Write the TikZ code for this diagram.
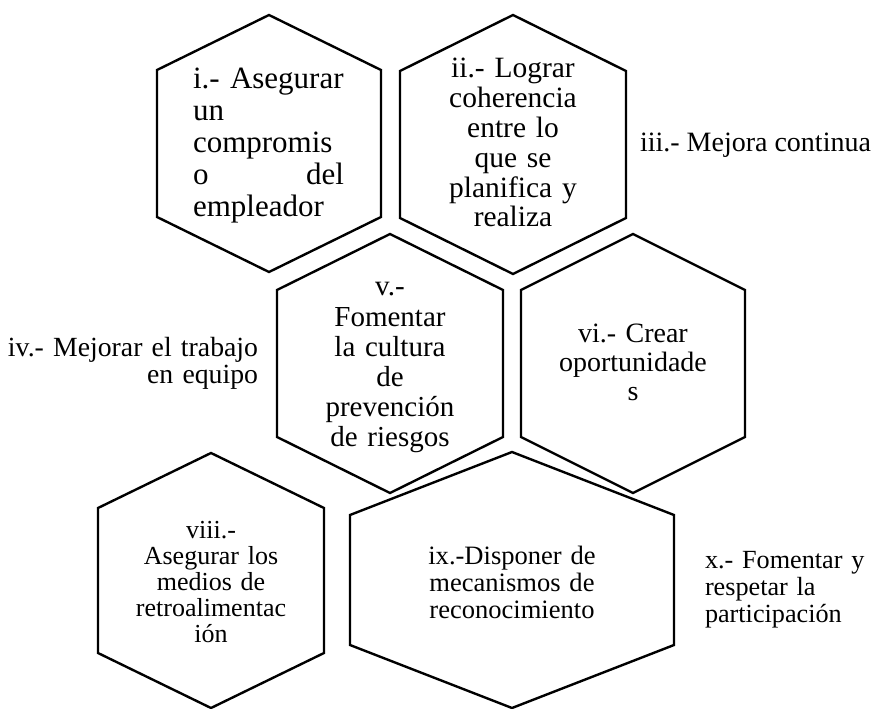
\documentclass[tikz,border=0pt]{standalone}
\usepackage{fontspec}
\setmainfont{Liberation Serif}
\tikzset{
	hex/.style={line width=1.8pt, line join=miter},
	lbl/.style={inner sep=0pt, outer sep=0pt}
}
\begin{document}
\begin{tikzpicture}[x=0.75pt,y=-0.75pt]
	\useasboundingbox (0,0) rectangle (875,709);
	% hexagons: centre x / top y / half width / rise / side
	\foreach \cx/\ty/\w/\r/\s in {269/15/112/55/147, 513/15/113/56/147, 390/234/113/56/147, 633/234/112/56/147, 211/453/113/55/145, 512/452/162/63/130} {
		\draw[hex] (\cx,\ty) -- ++(\w,\r) -- ++(0,\s) -- ++(-\w,\r) -- ++(-\w,-\r) -- ++(0,-\s) -- cycle;
	}
	\node[lbl, anchor=base west, text width=113.25pt, align=left, font=\fontsize{23.25pt}{24pt}\selectfont] (asegurar) at (193,89)
		{i.- Asegurar\\un\\compromis\\o\hfill del\\empleador};
	\node[lbl, anchor=base, text width=150pt, align=center, font=\fontsize{22.1pt}{22.35pt}\selectfont] (lograr) at (513,78)
		{ii.- Lograr\\coherencia\\entre lo\\que se\\planifica y\\realiza};
	\node[lbl, anchor=base west, font=\fontsize{21pt}{21pt}\selectfont] (mejora) at (640,152) {iii.- Mejora continua};
	\node[lbl, anchor=base east, text width=200pt, align=right, font=\fontsize{20.8pt}{20.25pt}\selectfont] (equipo) at (258,357)
		{iv.- Mejorar el trabajo\\en equipo};
	\node[lbl, anchor=base, text width=150pt, align=center, font=\fontsize{21.75pt}{22.65pt}\selectfont] (cultura) at (390,296)
		{v.-\\Fomentar\\la cultura\\de\\prevención\\de riesgos};
	\node[lbl, anchor=base, text width=150pt, align=center, font=\fontsize{21pt}{21.4pt}\selectfont] (crear) at (633,343)
		{vi.- Crear\\oportunidade\\s};
	\node[lbl, anchor=base, text width=150pt, align=center, font=\fontsize{19.5pt}{19.5pt}\selectfont] (medios) at (211,538)
		{viii.-\\Asegurar los\\medios de\\retroalimentac\\ión};
	\node[lbl, anchor=base, text width=150pt, align=center, font=\fontsize{19.9pt}{20.25pt}\selectfont] (disponer) at (512,564)
		{ix.-Disponer de\\mecanismos de\\reconocimiento};
	\node[lbl, anchor=base west, text width=150pt, align=left, font=\fontsize{19.65pt}{20.25pt}\selectfont] (participa) at (705,568)
		{x.- Fomentar y\\respetar la\\participación};
\end{tikzpicture}
\end{document}
